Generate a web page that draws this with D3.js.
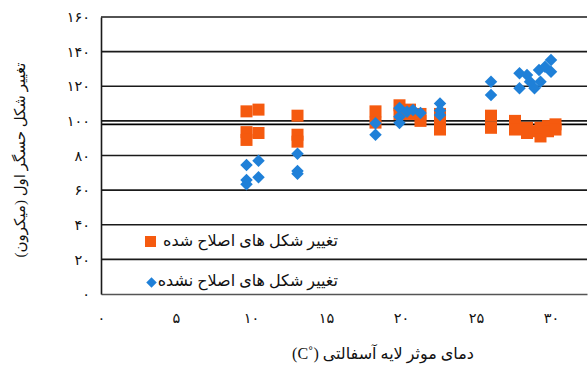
<!DOCTYPE html>
<html>
<head>
<meta charset="utf-8">
<script src="https://cdn.jsdelivr.net/npm/d3@7"></script>
<style>
  html, body { margin: 0; padding: 0; background: #fff; }
  svg { display: block; }
  .persian { font-family: "Times New Roman", "Liberation Serif", "DejaVu Sans", serif; }
</style>
</head>
<body>
<svg id="chart" width="588" height="365"></svg>
<script>
// Corrected deformation (orange squares): effective asphalt temperature (°C) and deformation (micron)
const correctedTemp = [9.7, 9.7, 9.7, 10.5, 10.5, 13.1, 13.1, 13.1, 18.3, 18.3, 19.9, 19.9, 20.6, 20.6, 21.3, 21.3,
  22.6, 22.6, 22.6, 26.0, 26.0, 27.6, 27.6, 27.6, 28.4, 28.4, 28.9, 29.3, 29.3, 29.8, 29.8, 30.3, 30.3];
const correctedDef = [105.5, 93.5, 89, 106.5, 93, 103, 92, 88, 105.5, 99, 109, 104, 106.5, 104, 104, 100,
  104, 98, 95, 103, 96, 100, 97, 95, 96, 93, 94, 91, 96, 97, 94, 98, 95];

// Uncorrected deformation (blue diamonds)
const uncorrectedTemp = [9.7, 9.7, 9.7, 10.5, 10.5, 13.1, 13.1, 13.1, 18.3, 18.3, 19.9, 19.9, 19.9, 20.4, 20.8, 21.3,
  22.6, 22.6, 22.6, 26.0, 26.0, 27.9, 28.4, 27.9, 28.9, 29.3, 29.2, 29.6, 30.0, 30.0, 28.6];
const uncorrectedDef = [74.5, 65.9, 63.4, 77, 67.4, 81, 71, 69.5, 98.6, 92, 107.4, 102.4, 98.8, 105.3, 106.3, 104.6,
  110, 106, 103.4, 122.6, 115, 127.5, 126.5, 118.8, 118.8, 122.6, 129.4, 131.3, 135.2, 128.4, 122.6];

// Horizontal reference level (micron)
const referenceLevel = [98];

// Axis ticks
const xTicks = [0, 5, 10, 15, 20, 25, 30];
const yTicks = [0, 20, 40, 60, 80, 100, 120, 140, 160];

// Texts
const seriesNames = ["تغییر شکل های اصلاح شده", "تغییر شکل های اصلاح نشده"];
const xTitle = "دمای موثر لایه آسفالتی (\u02DAC)";
const yTitle = "تغییر شکل حسگر اول (میکرون)";

const colors = { corrected: "#F55A0F", uncorrected: "#1F80D8" };

const toPersian = n => String(n).replace(/\d/g, d => "۰۱۲۳۴۵۶۷۸۹"[d]);

const svg = d3.select("#chart");
const plot = { left: 101, right: 587, top: 17, bottom: 294 };

const x = d3.scaleLinear().domain([0, 32.4]).range([plot.left, plot.right]);
const y = d3.scaleLinear().domain([0, 160]).range([plot.bottom, plot.top]);

// Gridlines
svg.append("g")
  .selectAll("line")
  .data(yTicks.filter(t => t > 0))
  .join("line")
  .attr("x1", plot.left).attr("x2", plot.right)
  .attr("y1", d => y(d)).attr("y2", d => y(d))
  .attr("stroke", "#1a1a1a").attr("stroke-width", 1.6);

// Reference line
svg.append("g")
  .selectAll("line")
  .data(referenceLevel)
  .join("line")
  .attr("x1", plot.left).attr("x2", plot.right)
  .attr("y1", d => y(d)).attr("y2", d => y(d))
  .attr("stroke", "#000").attr("stroke-width", 1.8);

// X axis (baseline) with Persian labels
const xAxis = d3.axisBottom(x).tickValues(xTicks).tickSize(0).tickPadding(0).tickFormat(toPersian);
const gx = svg.append("g").attr("transform", `translate(0,${plot.bottom})`).call(xAxis);
gx.select(".domain").attr("stroke", "#555").attr("stroke-width", 1.6);
gx.selectAll("text")
  .attr("class", "persian")
  .attr("y", 29)
  .attr("dy", 0)
  .attr("font-size", 14.5)
  .attr("fill", "#111");

// Y axis with Persian labels
const yAxis = d3.axisLeft(y).tickValues(yTicks).tickSize(0).tickPadding(11).tickFormat(toPersian);
const gy = svg.append("g").attr("transform", `translate(${plot.left},0)`).call(yAxis);
gy.select(".domain").attr("stroke", "#1a1a1a").attr("stroke-width", 1.6);
gy.selectAll("text")
  .attr("class", "persian")
  .attr("font-size", 14.5)
  .attr("fill", "#111");

// Series: corrected (squares)
const sq = 12;
svg.append("g")
  .selectAll("rect")
  .data(correctedTemp.map((t, i) => [t, correctedDef[i]]))
  .join("rect")
  .attr("x", d => x(d[0]) - sq / 2)
  .attr("y", d => y(d[1]) - sq / 2)
  .attr("width", sq).attr("height", sq)
  .attr("fill", colors.corrected);

// Series: uncorrected (diamonds)
const diamond = d3.symbol().type(d3.symbolDiamond2).size(100);
svg.append("g")
  .selectAll("path")
  .data(uncorrectedTemp.map((t, i) => [t, uncorrectedDef[i]]))
  .join("path")
  .attr("d", diamond)
  .attr("transform", d => `translate(${x(d[0])},${y(d[1])})`)
  .attr("fill", colors.uncorrected);

// Legend
const legend = svg.append("g");
legend.append("rect")
  .attr("x", 145).attr("y", 236).attr("width", 11).attr("height", 11)
  .attr("fill", colors.corrected);
legend.append("path")
  .attr("d", d3.symbol().type(d3.symbolDiamond2).size(70))
  .attr("transform", "translate(151.5,282.5)")
  .attr("fill", colors.uncorrected);
legend.selectAll("text")
  .data(seriesNames)
  .join("text")
  .attr("class", "persian")
  .attr("x", 338)
  .attr("y", (d, i) => 242 + i * 40)
  .attr("dominant-baseline", "middle")
  .attr("text-anchor", "end")
  .attr("font-size", 16)
  .attr("fill", "#111")
  .text(d => d);

// Axis titles
svg.append("text")
  .attr("class", "persian")
  .attr("x", 383).attr("y", 355)
  .attr("direction", "rtl")
  .attr("text-anchor", "middle")
  .attr("dominant-baseline", "middle")
  .attr("font-size", 16)
  .attr("fill", "#111")
  .text(xTitle);

svg.append("text")
  .attr("class", "persian")
  .attr("transform", "translate(22,160) rotate(-90)")
  .attr("direction", "rtl")
  .attr("text-anchor", "middle")
  .attr("dominant-baseline", "middle")
  .attr("font-size", 15)
  .attr("fill", "#111")
  .text(yTitle);
</script>
</body>
</html>
